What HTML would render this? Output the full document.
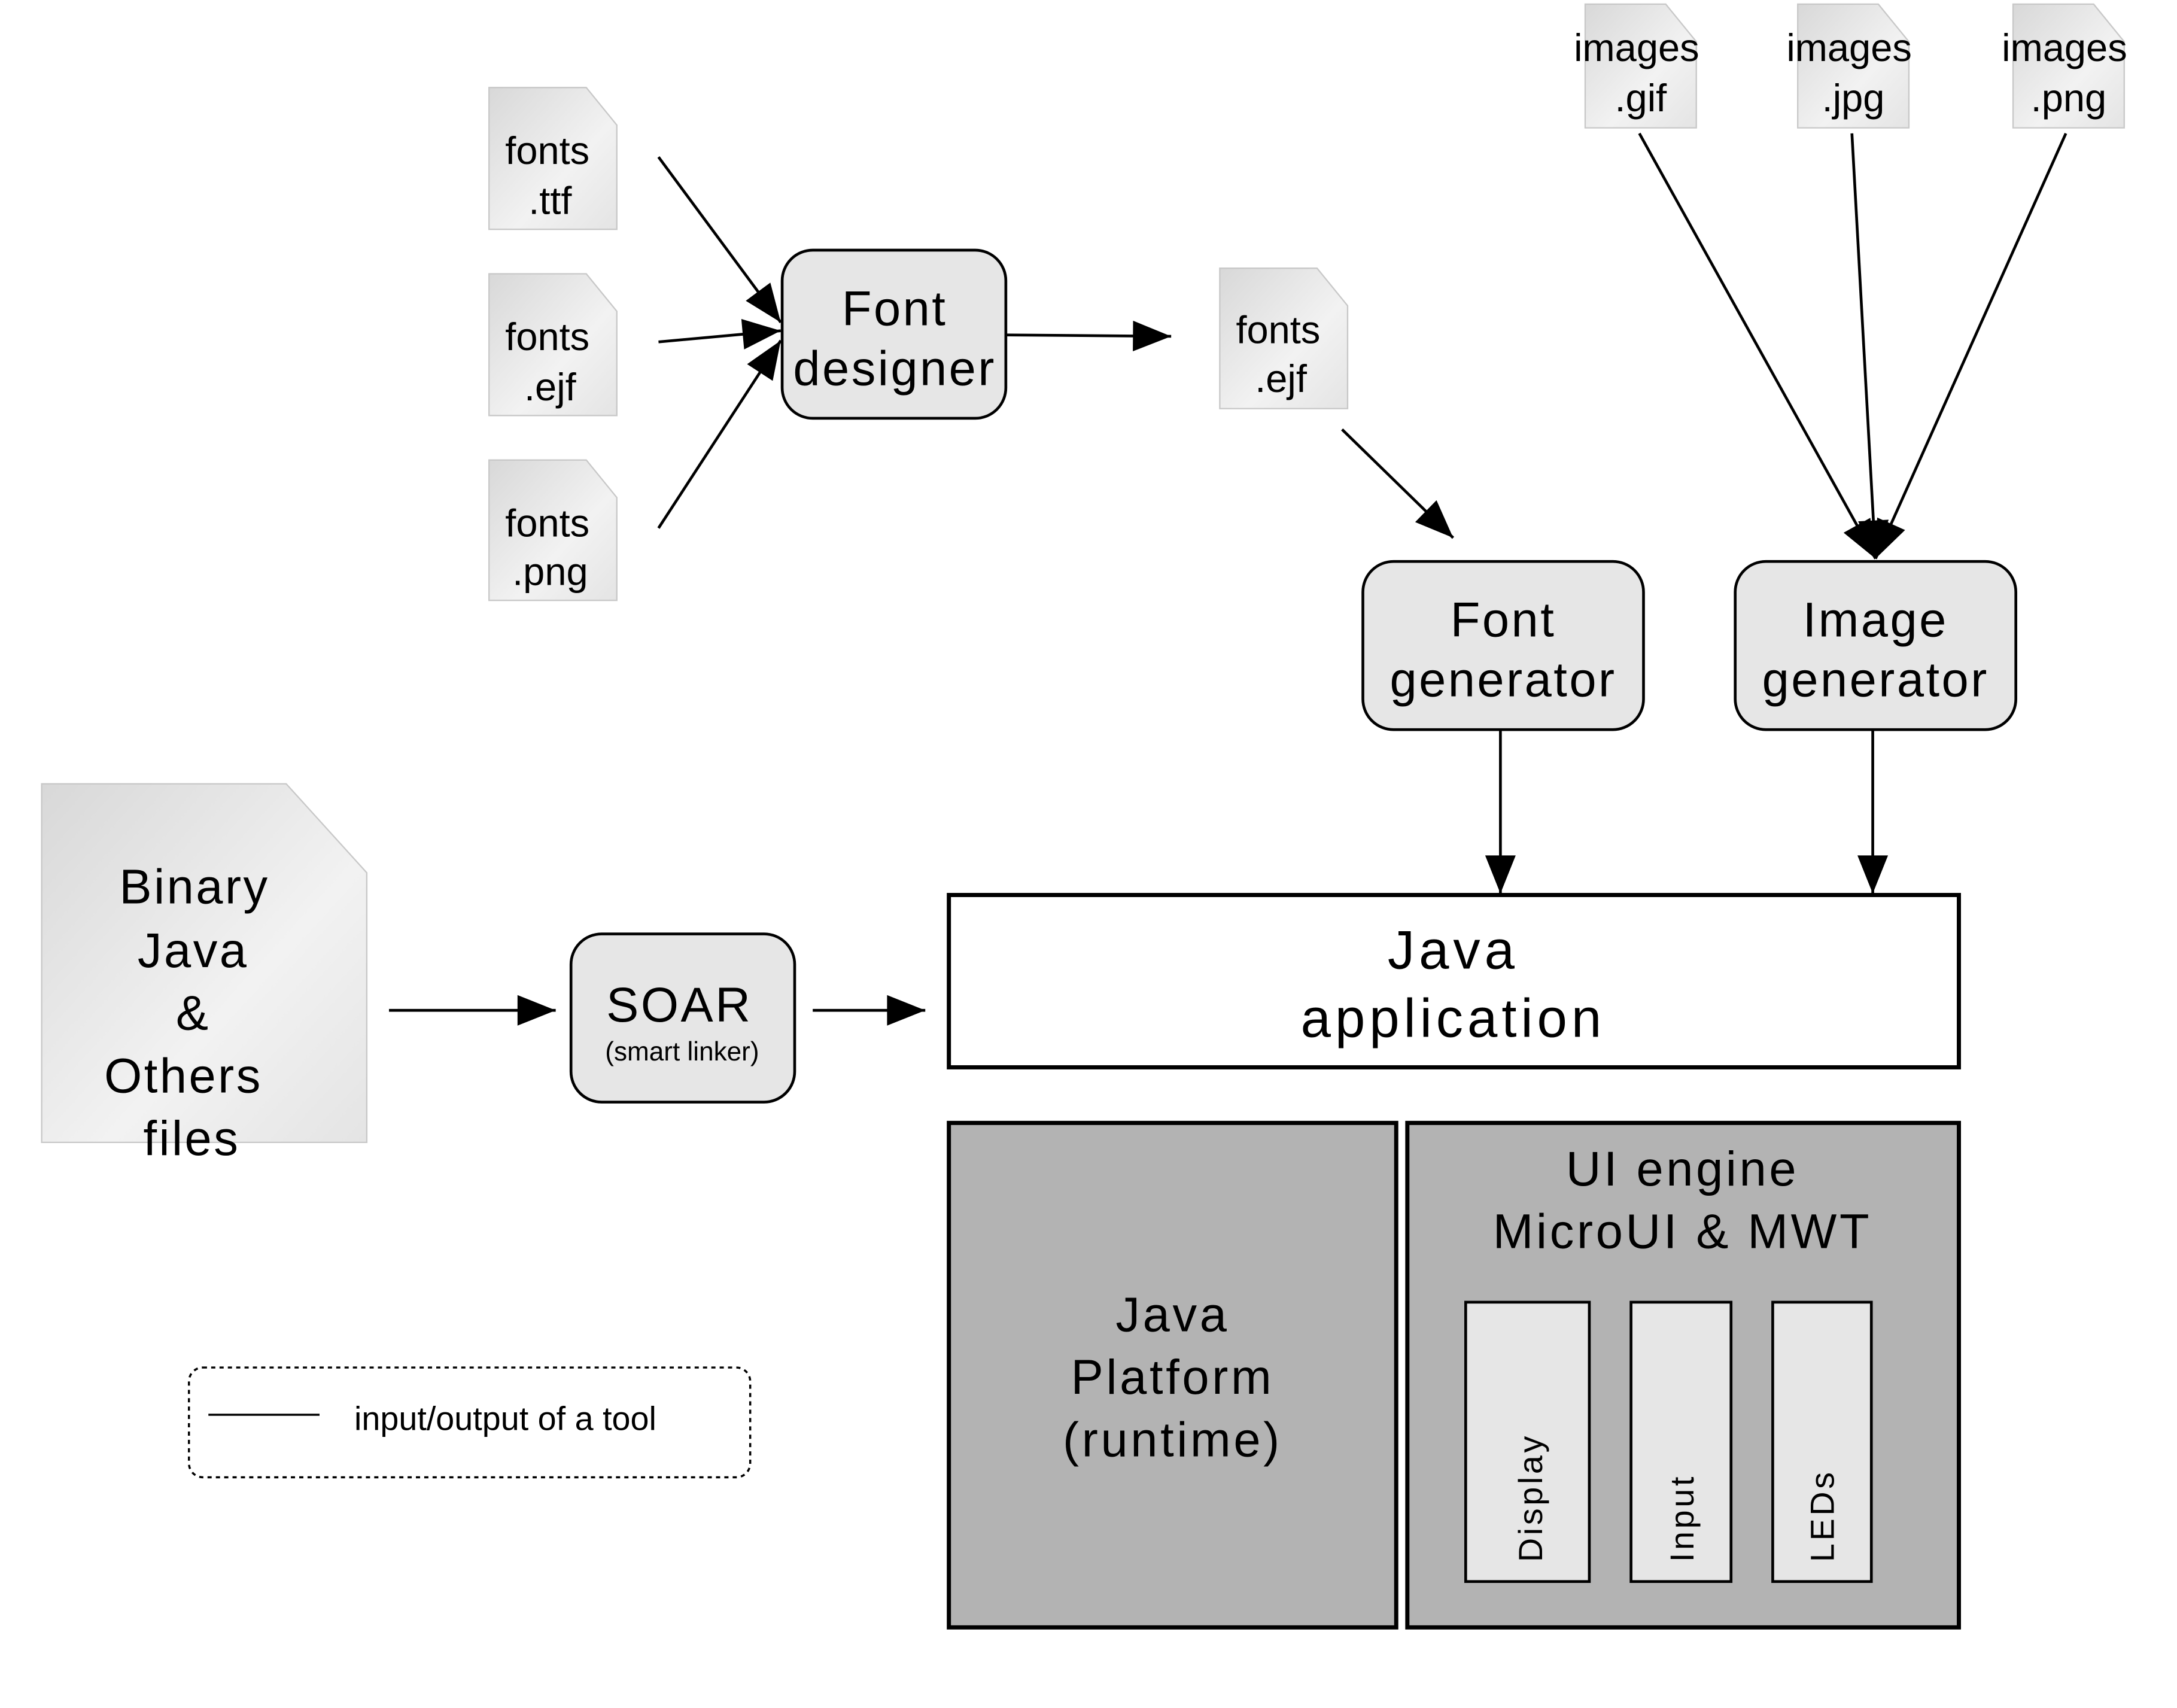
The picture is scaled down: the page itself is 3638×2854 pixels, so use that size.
<!DOCTYPE html>
<html><head><meta charset="utf-8"><style>html,body{margin:0;padding:0;background:#fff}svg{display:block}</style></head>
<body>
<svg width="3638" height="2854" viewBox="0 0 1567 1229" preserveAspectRatio="none" xmlns="http://www.w3.org/2000/svg" font-family="Liberation Sans, sans-serif">
<defs>
<marker id="b" viewBox="0 0 10 8" refX="10" refY="4" markerWidth="30" markerHeight="22" orient="auto" markerUnits="userSpaceOnUse"><path d="M0,0 L10,4 L0,8 z" fill="#000"/></marker>
<linearGradient id="g" x1="0" y1="0" x2="1" y2="1"><stop offset="0" stop-color="#d8d8d8"/><stop offset="0.6" stop-color="#f2f2f2"/><stop offset="1" stop-color="#e4e4e4"/></linearGradient>
</defs>
<g fill="url(#g)" stroke="#c8c8c8" stroke-width="1">
<path d="M352,63 H422 L444,90 V165 H352 z"/>
<path d="M352,197 H422 L444,224 V299 H352 z"/>
<path d="M352,331 H422 L444,358 V432 H352 z"/>
<path d="M878,193 H948 L970,220 V294 H878 z"/>
<path d="M1141,3 H1199 L1221,30 V92 H1141 z"/>
<path d="M1294,3 H1352 L1374,30 V92 H1294 z"/>
<path d="M1449,3 H1507 L1529,30 V92 H1449 z"/>
<path d="M30,564 H206 L264,628 V822 H30 z"/>
</g>
<g font-size="28" text-anchor="middle" fill="#000">
<text x="394" y="118">fonts</text><text x="396" y="154">.ttf</text>
<text x="394" y="252">fonts</text><text x="396" y="288">.ejf</text>
<text x="394" y="386">fonts</text><text x="396" y="421">.png</text>
<text x="920" y="247">fonts</text><text x="922" y="282">.ejf</text>
<text x="1178" y="44">images</text><text x="1181" y="80">.gif</text>
<text x="1331" y="44">images</text><text x="1334" y="80">.jpg</text>
<text x="1486" y="44">images</text><text x="1489" y="80">.png</text>
</g>
<g font-size="35" text-anchor="middle" fill="#000" letter-spacing="1.5">
<text x="140" y="650">Binary</text><text x="139" y="696">Java</text><text x="139" y="741">&amp;</text><text x="132" y="786">Others</text><text x="138" y="831">files</text>
</g>
<g fill="#e6e6e6" stroke="#000" stroke-width="2">
<rect x="563" y="180" width="161" height="121" rx="22"/>
<rect x="981" y="404" width="202" height="121" rx="22"/>
<rect x="1249" y="404" width="202" height="121" rx="22"/>
<rect x="411" y="672" width="161" height="121" rx="22"/>
</g>
<g font-size="35" text-anchor="middle" fill="#000" letter-spacing="1.5">
<text x="644" y="234">Font</text><text x="644" y="277">designer</text>
<text x="1082" y="458">Font</text><text x="1082" y="501">generator</text>
<text x="1350" y="458">Image</text><text x="1350" y="501">generator</text>
<text x="489" y="735">SOAR</text>
</g>
<text x="491" y="763" font-size="19" text-anchor="middle">(smart linker)</text>
<rect x="683" y="644" width="727" height="124" fill="#fff" stroke="#000" stroke-width="3"/>
<g font-size="39" text-anchor="middle" letter-spacing="3"><text x="1046" y="697">Java</text><text x="1046" y="746">application</text></g>
<rect x="683" y="808" width="322" height="363" fill="#b3b3b3" stroke="#000" stroke-width="3"/>
<rect x="1013" y="808" width="397" height="363" fill="#b3b3b3" stroke="#000" stroke-width="3"/>
<g font-size="35" text-anchor="middle" letter-spacing="2"><text x="844" y="958">Java</text><text x="844" y="1003">Platform</text><text x="844" y="1048">(runtime)</text>
<text x="1211" y="853">UI engine</text><text x="1211" y="898">MicroUI &amp; MWT</text></g>
<g fill="#e6e6e6" stroke="#000" stroke-width="2">
<rect x="1055" y="937" width="89" height="201"/><rect x="1174" y="937" width="72" height="201"/><rect x="1276" y="937" width="71" height="201"/>
</g>
<g font-size="24" letter-spacing="2">
<text transform="translate(1110,1124) rotate(-90)">Display</text>
<text transform="translate(1219,1124) rotate(-90)">Input</text>
<text transform="translate(1320,1124) rotate(-90)">LEDs</text>
</g>
<rect x="136" y="984" width="404" height="79" rx="10" fill="none" stroke="#000" stroke-width="1.5" stroke-dasharray="3,3"/>
<line x1="150" y1="1018" x2="230" y2="1018" stroke="#000" stroke-width="1.5"/>
<text x="255" y="1029" font-size="24">input/output of a tool</text>
<g stroke="#000" stroke-width="2" marker-end="url(#b)" fill="none">
<line x1="474" y1="113" x2="562" y2="232"/>
<line x1="474" y1="246" x2="562" y2="238"/>
<line x1="474" y1="380" x2="562" y2="245"/>
<line x1="724" y1="241" x2="843" y2="242"/>
<line x1="966" y1="309" x2="1046" y2="387"/>
<line x1="1080" y1="525" x2="1080" y2="643"/>
<line x1="1348" y1="525" x2="1348" y2="643"/>
<line x1="1180" y1="96" x2="1350" y2="402"/>
<line x1="1333" y1="96" x2="1350" y2="402"/>
<line x1="1487" y1="96" x2="1350" y2="402"/>
<line x1="280" y1="727" x2="400" y2="727"/>
<line x1="585" y1="727" x2="666" y2="727"/>
</g>
</svg>
</body></html>
